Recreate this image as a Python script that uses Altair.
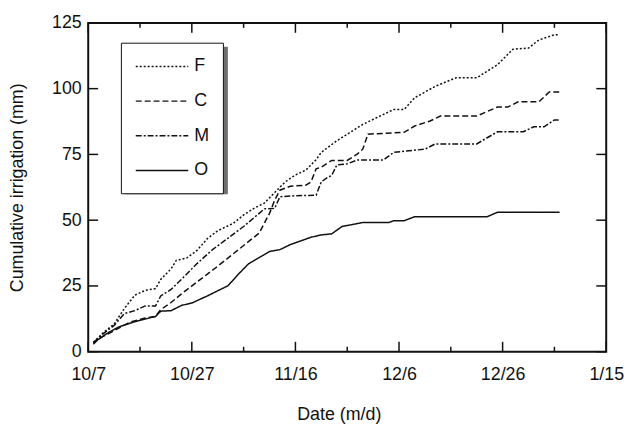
import altair as alt
import pandas as pd

# ---------------- data (days after 10/7, cumulative irrigation mm) ----------------
START = "2008-10-07"
series_names = ["F", "C", "M", "O"]

f_days = [1, 3, 5, 7, 9, 11, 13, 14, 16, 17, 19, 21, 23, 25, 28, 30, 32, 34, 36, 38, 40, 42, 44, 45,
          48, 53, 57, 59, 61, 63, 67, 71, 75, 79, 82, 85, 87, 90, 91]
f_vals = [3.6, 7.4, 10.5, 16.5, 21.5, 23.3, 24.0, 27.5, 31.5, 34.7, 35.6, 38.5, 43.0, 46.0, 48.8,
          52.0, 54.5, 56.5, 60.5, 64.5, 67.2, 69.0, 73.0, 75.8, 80.2, 86.4, 90.2, 92.1, 92.1, 96.5,
          100.9, 104.1, 104.1, 109.1, 115.0, 115.4, 118.5, 120.5, 120.5]

c_days = [1, 2, 5, 8, 11, 13, 14, 16, 18, 21, 23, 25, 29, 33, 35, 36, 37, 39, 42, 43, 44, 45, 47,
          50, 52, 53, 54, 61, 63, 66, 68, 75, 79, 81, 83, 87, 89, 91]
c_vals = [2.8, 4.9, 8.0, 11.2, 12.8, 13.5, 16.0, 18.7, 22.0, 26.5, 29.5, 32.5, 38.8, 45.1, 52.6,
          57.6, 61.4, 62.9, 63.3, 64.5, 69.5, 70.2, 72.7, 72.7, 75.2, 77.0, 82.7, 83.4, 85.8, 87.7,
          89.6, 89.6, 93.0, 93.0, 95.0, 95.0, 98.7, 98.7]

m_days = [1, 3, 5, 7, 9, 11, 13, 14, 16, 18, 21, 24, 27, 30, 33, 34, 36, 37, 40, 44, 45, 46, 47,
          48, 50, 52, 57, 59, 65, 67, 75, 79, 84, 86, 88, 90, 91]
m_vals = [3.5, 7.0, 10.0, 14.5, 15.6, 17.4, 17.4, 21.2, 23.7, 27.5, 33.5, 38.8, 43.2, 47.6, 52.6,
          54.3, 54.5, 58.9, 59.3, 59.5, 64.6, 66.0, 67.0, 71.0, 71.4, 72.9, 72.9, 75.8, 77.0, 79.0,
          79.0, 83.6, 83.6, 85.5, 85.5, 88.1, 88.1]

o_days = [1, 4, 6, 9, 11, 13, 14, 16, 18, 20, 23, 27, 29, 31, 35, 37, 39, 42, 43, 45, 47, 49, 53,
          58, 59, 61, 63, 77, 79, 91]
o_vals = [3.4, 7.4, 9.5, 11.4, 12.4, 13.4, 15.4, 15.6, 17.6, 18.5, 21.2, 25.1, 29.5, 33.5, 38.1,
          38.8, 40.7, 42.8, 43.5, 44.4, 44.8, 47.6, 49.1, 49.1, 49.8, 49.8, 51.3, 51.3, 53.0, 53.0]

major_tick_days = [0, 20, 40, 60, 80, 100]
minor_tick_days = [10, 30, 50, 70, 90]
y_tick_values = [0, 25, 50, 75, 100, 125]
dash_patterns = [[2, 2], [6, 3], [6, 2, 2, 2], [1, 0]]

# ---------------- tables ----------------
base = pd.Timestamp(START)
rows = []
for name, days, vals in [("F", f_days, f_vals), ("C", c_days, c_vals),
                         ("M", m_days, m_vals), ("O", o_days, o_vals)]:
    for d, v in zip(days, vals):
        rows.append({"series": name, "date": base + pd.Timedelta(days=d), "value": v})
df = pd.DataFrame(rows)

major_df = pd.DataFrame({"date": [base + pd.Timedelta(days=d) for d in major_tick_days]})
minor_df = pd.DataFrame({"date": [base + pd.Timedelta(days=d) for d in minor_tick_days]})
ytick_df = pd.DataFrame({"v": y_tick_values})
shadow_df = pd.DataFrame({"k": [0]})

W, H = 523, 332
FONT = "Liberation Sans"
INK = "#111111"
LEG_X, LEG_Y = 33, 20

xscale = alt.Scale(domain=[alt.DateTime(year=2008, month=10, date=7),
                           alt.DateTime(year=2009, month=1, date=15)])
yscale = alt.Scale(domain=[0, 125])

def _dt(d):
    t = base + pd.Timedelta(days=d)
    return alt.DateTime(year=t.year, month=t.month, date=t.day)

x_axis_values = [_dt(d) for d in major_tick_days]

xaxis = alt.Axis(values=x_axis_values, format="%-m/%-d", title="Date (m/d)",
                 ticks=False, domain=False, grid=False, labelFlush=False,
                 labelOverlap=False, labelPadding=14, labelFontSize=18,
                 labelFont=FONT, labelColor=INK, titleFont=FONT, titleFontSize=18,
                 titleFontWeight="normal", titleColor=INK, titleX=253, titleY=63,
                 titleBaseline="middle", titleAlign="center")
yaxis = alt.Axis(values=y_tick_values, title="Cumulative irrigation (mm)",
                 ticks=False, domain=False, grid=False, labelFlush=False,
                 labelOverlap=False, labelPadding=7, labelFontSize=18, labelFont=FONT,
                 labelColor=INK, titleFont=FONT, titleFontSize=18, titleFontWeight="normal",
                 titleColor=INK, titleX=-71, titleY=166, titleBaseline="middle",
                 titleAlign="center")

lines = alt.Chart(df).mark_line(color=INK, strokeWidth=1.5).encode(
    x=alt.X("date:T", scale=xscale, axis=xaxis),
    y=alt.Y("value:Q", scale=yscale, axis=yaxis),
    strokeDash=alt.StrokeDash(
        "series:N",
        scale=alt.Scale(domain=series_names, range=dash_patterns),
        legend=alt.Legend(title=None, orient="none", legendX=LEG_X, legendY=LEG_Y,
                          direction="vertical", symbolType="M-1,0H4.889", symbolSize=324,
                          symbolStrokeWidth=1.4, symbolStrokeColor=INK, labelFontSize=18,
                          labelFont=FONT, labelColor=INK, labelOffset=40, rowPadding=16,
                          padding=14, strokeColor=INK, fillColor="white")),
)

shadow = alt.Chart(shadow_df).mark_rect(color="#707070").encode(
    x=alt.value(LEG_X + 4), x2=alt.value(LEG_X + 108),
    y=alt.value(LEG_Y + 4), y2=alt.value(LEG_Y + 153)
)

tick_style = dict(color=INK, strokeWidth=1.5)
bx_major = alt.Chart(major_df).mark_rule(**tick_style).encode(
    x=alt.X("date:T", scale=xscale, axis=xaxis), y=alt.value(H), y2=alt.value(H - 10))
tx_major = alt.Chart(major_df).mark_rule(**tick_style).encode(
    x=alt.X("date:T", scale=xscale, axis=xaxis), y=alt.value(0), y2=alt.value(10))
bx_minor = alt.Chart(minor_df).mark_rule(**tick_style).encode(
    x=alt.X("date:T", scale=xscale, axis=xaxis), y=alt.value(H), y2=alt.value(H - 5))
tx_minor = alt.Chart(minor_df).mark_rule(**tick_style).encode(
    x=alt.X("date:T", scale=xscale, axis=xaxis), y=alt.value(0), y2=alt.value(5))
ly = alt.Chart(ytick_df).mark_rule(**tick_style).encode(
    y=alt.Y("v:Q", scale=yscale, axis=yaxis), x=alt.value(0), x2=alt.value(10))
ry = alt.Chart(ytick_df).mark_rule(**tick_style).encode(
    y=alt.Y("v:Q", scale=yscale, axis=yaxis), x=alt.value(W), x2=alt.value(W - 10))

chart = alt.layer(lines, shadow, bx_major, tx_major, bx_minor, tx_minor, ly, ry).properties(
    width=W, height=H,
    autosize=alt.AutoSizeParams(type="none"),
    padding={"left": 81, "top": 13, "right": 22, "bottom": 75},
    background="white",
).configure_view(stroke=INK, strokeWidth=2)

chart.save("out.html", embed_options={"renderer": "svg", "actions": False})
